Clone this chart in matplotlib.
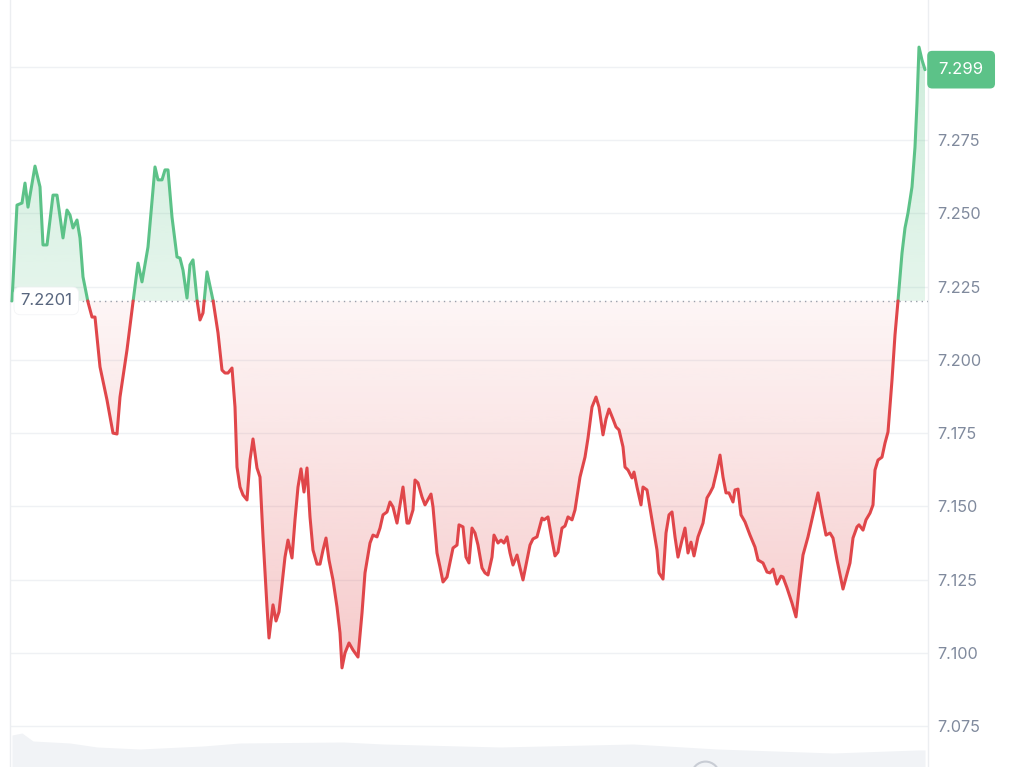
import numpy as np
import matplotlib
matplotlib.use('Agg')
import matplotlib.pyplot as plt
from matplotlib.path import Path
from matplotlib.patches import PathPatch

plt.rcParams['font.family'] = ['Inter', 'DejaVu Sans']

# ---------------- data ----------------
times = [0, 5, 10, 13, 16, 23, 28, 31, 35, 41, 45, 51, 55, 58, 61, 65, 68, 71, 76, 80,
         83, 88, 95, 101, 105, 108, 115, 121, 126, 130, 136, 143, 146, 150, 153, 156, 160, 165, 168, 171,
         175, 178, 181, 185, 188, 191, 195, 201, 206, 210, 213, 216, 220, 223, 225, 228, 231, 235, 238, 241,
         245, 248, 251, 255, 257, 261, 264, 267, 273, 276, 280, 283, 286, 289, 292, 295, 298, 301, 305, 308,
         311, 314, 317, 321, 325, 328, 330, 333, 337, 341, 346, 350, 353, 358, 361, 365, 368, 371, 375, 378,
         381, 385, 391, 395, 397, 401, 403, 406, 410, 413, 419, 421, 425, 428, 431, 435, 441, 445, 447, 451,
         454, 457, 460, 463, 466, 470, 473, 476, 480, 482, 486, 489, 492, 495, 498, 501, 505, 508, 511, 515,
         518, 521, 525, 530, 532, 536, 540, 543, 546, 550, 553, 556, 560, 563, 568, 573, 576, 580, 584, 587,
         591, 594, 597, 601, 604, 607, 611, 613, 616, 620, 622, 625, 629, 631, 635, 640, 645, 647, 651, 654,
         657, 660, 663, 666, 670, 673, 676, 679, 682, 686, 691, 695, 698, 701, 705, 708, 711, 714, 717, 721,
         723, 726, 729, 733, 738, 743, 746, 751, 755, 758, 761, 765, 769, 771, 775, 780, 784, 788, 791, 796,
         801, 806, 810, 814, 818, 821, 825, 831, 838, 841, 845, 847, 851, 854, 858, 861, 863, 866, 870, 873,
         876, 880, 883, 886, 890, 893, 896, 900, 903, 905, 907, 910, 913]

prices = [7.2201, 7.2528, 7.2535, 7.2603, 7.2521, 7.2661, 7.2590, 7.2392, 7.2392, 7.2562,
          7.2562, 7.2416, 7.2511, 7.2494, 7.2450, 7.2477, 7.2416, 7.2283, 7.2197, 7.2146,
          7.2146, 7.1976, 7.1863, 7.1750, 7.1747, 7.1873, 7.2034, 7.2197, 7.2330, 7.2266,
          7.2385, 7.2658, 7.2614, 7.2614, 7.2648, 7.2648, 7.2487, 7.2351, 7.2347, 7.2306,
          7.2211, 7.2324, 7.2341, 7.2204, 7.2136, 7.2160, 7.2300, 7.2204, 7.2092, 7.1965,
          7.1955, 7.1955, 7.1972, 7.1839, 7.1634, 7.1566, 7.1539, 7.1522, 7.1658, 7.1730,
          7.1631, 7.1600, 7.1396, 7.1157, 7.1051, 7.1164, 7.1109, 7.1140, 7.1327, 7.1385,
          7.1324, 7.1454, 7.1566, 7.1628, 7.1549, 7.1631, 7.1464, 7.1351, 7.1303, 7.1303,
          7.1351, 7.1392, 7.1317, 7.1249, 7.1157, 7.1068, 7.0949, 7.1000, 7.1034, 7.1010,
          7.0986, 7.1136, 7.1273, 7.1375, 7.1402, 7.1396, 7.1426, 7.1471, 7.1481, 7.1515,
          7.1498, 7.1443, 7.1566, 7.1443, 7.1443, 7.1488, 7.1590, 7.1580, 7.1532, 7.1505,
          7.1542, 7.1498, 7.1341, 7.1293, 7.1242, 7.1259, 7.1358, 7.1368, 7.1437, 7.1430,
          7.1327, 7.1307, 7.1426, 7.1409, 7.1368, 7.1290, 7.1273, 7.1266, 7.1327, 7.1402,
          7.1375, 7.1385, 7.1375, 7.1396, 7.1341, 7.1300, 7.1334, 7.1290, 7.1249, 7.1317,
          7.1368, 7.1389, 7.1396, 7.1460, 7.1454, 7.1464, 7.1385, 7.1331, 7.1344, 7.1426,
          7.1433, 7.1464, 7.1454, 7.1488, 7.1600, 7.1668, 7.1733, 7.1839, 7.1873, 7.1839,
          7.1744, 7.1798, 7.1832, 7.1798, 7.1771, 7.1761, 7.1703, 7.1634, 7.1624, 7.1597,
          7.1617, 7.1566, 7.1505, 7.1566, 7.1556, 7.1454, 7.1351, 7.1273, 7.1252, 7.1409,
          7.1471, 7.1481, 7.1396, 7.1327, 7.1385, 7.1426, 7.1341, 7.1378, 7.1331, 7.1396,
          7.1443, 7.1529, 7.1546, 7.1566, 7.1624, 7.1675, 7.1600, 7.1546, 7.1546, 7.1515,
          7.1556, 7.1559, 7.1471, 7.1447, 7.1402, 7.1361, 7.1317, 7.1307, 7.1276, 7.1273,
          7.1286, 7.1235, 7.1262, 7.1259, 7.1222, 7.1170, 7.1123, 7.1249, 7.1334, 7.1396,
          7.1471, 7.1546, 7.1471, 7.1402, 7.1409, 7.1392, 7.1317, 7.1218, 7.1307, 7.1392,
          7.1430, 7.1437, 7.1419, 7.1454, 7.1477, 7.1505, 7.1624, 7.1658, 7.1668, 7.1716,
          7.1754, 7.1931, 7.2085, 7.2201, 7.2364, 7.2450, 7.2501, 7.2590, 7.2726, 7.2876,
          7.3067, 7.3023, 7.2990]

baseline = 7.2201
last_price = 7.299
y_ticks = [7.075, 7.100, 7.125, 7.150, 7.175, 7.200, 7.225, 7.250, 7.275]
grid_levels = [7.075, 7.100, 7.125, 7.150, 7.175, 7.200, 7.225, 7.250, 7.275, 7.300]

vol_times = [0, 10, 21, 58, 85, 128, 191, 228, 331, 371, 488, 621, 705, 821, 905, 913]
vol_values = [32, 34, 26, 24, 20, 18, 21, 24, 25, 23, 20, 23, 18, 14, 17, 17]

GREEN = '#5cc288'
RED = '#e0464a'
TICK_COLOR = '#808a9d'

# ---------------- figure ----------------
fig = plt.figure(figsize=(10.24, 7.67), dpi=100)
rect = [10 / 1024, 0, 918 / 1024, 1]
XLIM = (-2, 916)
YLIM = (7.06108, 7.32277)

ax_vol = fig.add_axes(rect, zorder=0)
ax_vol.fill_between(vol_times, vol_values, 0, color='#f1f3f6', lw=0)
ax_vol.set_xlim(*XLIM)
ax_vol.set_ylim(0, 767)
ax_vol.axis('off')

ax = fig.add_axes(rect, zorder=1)
ax.patch.set_alpha(0)

t = np.array(times, float)
p = np.array(prices, float)
tt = [t[0]]
pp = [p[0]]
for i in range(1, len(t)):
    a, b = p[i - 1] - baseline, p[i] - baseline
    if a * b < 0:
        f = a / (a - b)
        tt.append(t[i - 1] + f * (t[i] - t[i - 1]))
        pp.append(baseline)
    tt.append(t[i])
    pp.append(p[i])
tt = np.array(tt)
pp = np.array(pp)

# grid
ax.hlines(grid_levels, XLIM[0], XLIM[1], color='#eff1f4', lw=1, zorder=0)


def grad_fill(mask, rgb, y0, y1, a0, a1):
    poly = ax.fill_between(tt, pp, baseline, where=mask, interpolate=True,
                           facecolor='none', edgecolor='none')
    cp = Path.make_compound_path(*poly.get_paths())
    patch = PathPatch(cp, transform=ax.transData, facecolor='none', edgecolor='none')
    ax.add_patch(patch)
    n = 256
    img = np.zeros((n, 1, 4))
    img[..., :3] = rgb
    img[..., 3] = np.linspace(a0, a1, n)[:, None]
    im = ax.imshow(img, extent=[tt[0], tt[-1], y0, y1], origin='lower',
                   aspect='auto', interpolation='bicubic', zorder=1)
    im.set_clip_path(patch)


g_rgb = np.array([92, 194, 136]) / 255
r_rgb = np.array([224, 72, 74]) / 255
grad_fill(pp >= baseline, g_rgb, baseline, 7.31, 0.16, 0.30)
grad_fill(pp <= baseline, r_rgb, 7.09, baseline, 0.30, 0.05)

# baseline dotted
ax.axhline(baseline, color='#9aa0ab', lw=1, ls=(0, (1, 3)), zorder=3)

# line
eps = 1e-12
g = np.ma.masked_where(pp < baseline - eps, pp)
r = np.ma.masked_where(pp > baseline + eps, pp)
ax.plot(tt, g, color=GREEN, lw=2.2, zorder=4, solid_joinstyle='round', solid_capstyle='round')
ax.plot(tt, r, color=RED, lw=2.2, zorder=4, solid_joinstyle='round', solid_capstyle='round')

ax.set_xlim(*XLIM)
ax.set_ylim(*YLIM)

# axes styling
for s in ['top', 'bottom']:
    ax.spines[s].set_visible(False)
for s in ['left', 'right']:
    ax.spines[s].set_color('#eceef1')
    ax.spines[s].set_linewidth(1)
ax.set_xticks([])
ax.yaxis.tick_right()
ax.set_yticks(y_ticks)
ax.set_yticklabels([f'{v:.3f}' for v in y_ticks])
ax.tick_params(axis='y', length=0, pad=6.5, labelsize=11.7, labelcolor=TICK_COLOR)

# baseline label
ax.annotate(f'{baseline:.4f}', xy=(tt[0], baseline), xytext=(6, 0), textcoords='offset points',
            ha='left', va='center', fontsize=12, color='#58667e', zorder=6,
            bbox=dict(boxstyle='round,pad=0.38,rounding_size=0.4', fc='white', ec='#f3f4f6', lw=0.6))

# last price label
ax.annotate(f'{last_price:.3f}', xy=(1, last_price), xycoords=('axes fraction', 'data'),
            xytext=(7.6, 0), textcoords='offset points', ha='left', va='center',
            fontsize=12, color='white', zorder=6, annotation_clip=False,
            bbox=dict(boxstyle='round,pad=0.68,rounding_size=0.3', fc=GREEN, ec='none'))

# faint watermark circle at bottom
ax.plot([693], [7.0583], marker='o', ms=20, mfc='none', mec='#c8ccd4', mew=1.5,
        clip_on=False, zorder=2)

fig.savefig('out.png', dpi=100)
